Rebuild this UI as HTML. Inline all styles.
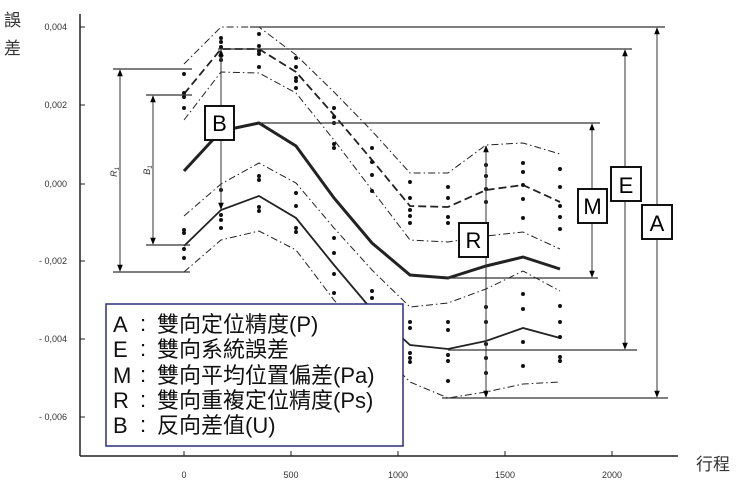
<!DOCTYPE html>
<html><head><meta charset="utf-8"><style>
html,body{margin:0;padding:0;background:#fff;}
svg{display:block;}
.t{font-family:"Liberation Sans",sans-serif;font-size:9px;fill:#333;}
.c{font-family:"Liberation Sans","Noto Sans CJK TC",sans-serif;}
</style></head><body>
<svg width="740" height="489" viewBox="0 0 740 489" xmlns="http://www.w3.org/2000/svg">
<defs>
<marker id="ar" viewBox="0 0 10 10" refX="9" refY="5" markerWidth="7" markerHeight="9" orient="auto-start-reverse" markerUnits="userSpaceOnUse"><path d="M0,1 L10,5 L0,9 Z" fill="#000"/></marker>
</defs>
<line x1="80" y1="14" x2="80" y2="456" stroke="#222" stroke-width="1.5"/>
<line x1="80" y1="456" x2="678" y2="456" stroke="#222" stroke-width="1.5"/>
<g stroke="#222" stroke-width="1">
<line x1="80" y1="27" x2="85" y2="27"/><line x1="80" y1="105" x2="85" y2="105"/><line x1="80" y1="184" x2="85" y2="184"/><line x1="80" y1="261" x2="85" y2="261"/><line x1="80" y1="339" x2="85" y2="339"/><line x1="80" y1="417" x2="85" y2="417"/>
<line x1="184" y1="451" x2="184" y2="456"/><line x1="291" y1="451" x2="291" y2="456"/><line x1="398" y1="451" x2="398" y2="456"/><line x1="505" y1="451" x2="505" y2="456"/><line x1="612" y1="451" x2="612" y2="456"/>
</g>
<g class="t" text-anchor="end">
<text x="67" y="30">0,004</text><text x="67" y="108">0,002</text><text x="67" y="187">0,000</text>
<text x="67" y="264">- 0,002</text><text x="67" y="342">- 0,004</text><text x="67" y="420">- 0,006</text>
</g>
<g class="t" text-anchor="middle">
<text x="184" y="478">0</text><text x="291" y="478">500</text><text x="398" y="478">1000</text><text x="505" y="478">1500</text><text x="612" y="478">2000</text>
</g>
<text class="c" x="4" y="26" font-size="17" fill="#333">誤</text>
<text class="c" x="4" y="54" font-size="17" fill="#333">差</text>
<text class="c" x="696" y="470" font-size="17" fill="#333">行程</text>

<g fill="none" stroke="#222">
<polyline stroke-width="1" stroke-dasharray="7,3,1.5,3" points="184,64 221,27 259,27 296,55 334,92 372,131 410,173 448,173 486,145 523,143 560,154"/>
<polyline stroke-width="1.8" stroke-dasharray="8,4" points="184,94 221,49 259,49 296,72 334,115 372,160 410,206 448,207 486,190 523,185 560,202"/>
<polyline stroke-width="1" stroke-dasharray="7,3,1.5,3" points="184,120 221,72 259,73 296,93 334,140 372,190 410,240 448,242 486,236 523,232 560,249"/>
<polyline stroke-width="3" points="184,171 221,131 259,123 296,146 334,198 372,243 410,275 448,278 486,266 523,257 560,269"/>
<polyline stroke-width="1" stroke-dasharray="7,3,1.5,3" points="184,216 221,184 259,163 296,183 334,228 372,270 410,307 448,303 486,289 523,271 560,291"/>
<polyline stroke-width="1.8" points="184,246 221,210 259,196 296,218 334,265 372,310 410,345 448,349 486,341 523,328 560,338"/>
<polyline stroke-width="1" stroke-dasharray="7,3,1.5,3" points="184,272 221,240 259,231 296,250 334,300 372,343 410,382 448,398 486,392 523,384 560,382"/>
</g>

<g fill="#111">
<circle cx="184" cy="74" r="2"/><circle cx="184" cy="93" r="2"/><circle cx="184" cy="97" r="2"/><circle cx="184" cy="108" r="2"/><circle cx="184" cy="230" r="2"/><circle cx="184" cy="233" r="2"/><circle cx="184" cy="249" r="2"/><circle cx="184" cy="258" r="2"/>
<circle cx="221" cy="38" r="2"/><circle cx="221" cy="42" r="2"/><circle cx="221" cy="47" r="2"/><circle cx="221" cy="56" r="2"/><circle cx="221" cy="60" r="2"/><circle cx="221" cy="190" r="2"/><circle cx="221" cy="215" r="2"/><circle cx="221" cy="220" r="2"/><circle cx="221" cy="228" r="2"/>
<circle cx="259" cy="34" r="2"/><circle cx="259" cy="46" r="2"/><circle cx="259" cy="51" r="2"/><circle cx="259" cy="54" r="2"/><circle cx="259" cy="67" r="2"/><circle cx="259" cy="176" r="2"/><circle cx="259" cy="180" r="2"/><circle cx="259" cy="207" r="2"/><circle cx="259" cy="211" r="2"/>
<circle cx="296" cy="58" r="2"/><circle cx="296" cy="67" r="2"/><circle cx="296" cy="78" r="2"/><circle cx="296" cy="81" r="2"/><circle cx="296" cy="88" r="2"/><circle cx="296" cy="193" r="2"/><circle cx="296" cy="206" r="2"/><circle cx="296" cy="228" r="2"/><circle cx="296" cy="232" r="2"/>
<circle cx="334" cy="108" r="2"/><circle cx="334" cy="117" r="2"/><circle cx="334" cy="123" r="2"/><circle cx="334" cy="144" r="2"/><circle cx="334" cy="148" r="2"/><circle cx="334" cy="238" r="2"/><circle cx="334" cy="253" r="2"/><circle cx="334" cy="274" r="2"/><circle cx="334" cy="293" r="2"/>
<circle cx="372" cy="148" r="2"/><circle cx="372" cy="162" r="2"/><circle cx="372" cy="175" r="2"/><circle cx="372" cy="191" r="2"/><circle cx="372" cy="291" r="2"/><circle cx="372" cy="298" r="2"/>
<circle cx="410" cy="182" r="2"/><circle cx="410" cy="198" r="2"/><circle cx="410" cy="210" r="2"/><circle cx="410" cy="216" r="2"/><circle cx="410" cy="223" r="2"/><circle cx="410" cy="322" r="2"/><circle cx="410" cy="328" r="2"/><circle cx="410" cy="353" r="2"/><circle cx="410" cy="358" r="2"/><circle cx="410" cy="362" r="2"/>
<circle cx="448" cy="187" r="2"/><circle cx="448" cy="198" r="2"/><circle cx="448" cy="217" r="2"/><circle cx="448" cy="223" r="2"/><circle cx="448" cy="322" r="2"/><circle cx="448" cy="330" r="2"/><circle cx="448" cy="355" r="2"/><circle cx="448" cy="361" r="2"/><circle cx="448" cy="381" r="2"/>
<circle cx="486" cy="165" r="2"/><circle cx="486" cy="176" r="2"/><circle cx="486" cy="189" r="2"/><circle cx="486" cy="202" r="2"/><circle cx="486" cy="307" r="2"/><circle cx="486" cy="322" r="2"/><circle cx="486" cy="344" r="2"/><circle cx="486" cy="358" r="2"/><circle cx="486" cy="373" r="2"/>
<circle cx="523" cy="163" r="2"/><circle cx="523" cy="172" r="2"/><circle cx="523" cy="185" r="2"/><circle cx="523" cy="199" r="2"/><circle cx="523" cy="218" r="2"/><circle cx="523" cy="294" r="2"/><circle cx="523" cy="309" r="2"/><circle cx="523" cy="342" r="2"/><circle cx="523" cy="366" r="2"/>
<circle cx="560" cy="169" r="2"/><circle cx="560" cy="187" r="2"/><circle cx="560" cy="206" r="2"/><circle cx="560" cy="217" r="2"/><circle cx="560" cy="229" r="2"/><circle cx="560" cy="306" r="2"/><circle cx="560" cy="322" r="2"/><circle cx="560" cy="337" r="2"/><circle cx="560" cy="357" r="2"/><circle cx="560" cy="361" r="2"/>
</g>

<g stroke="#333" stroke-width="1.2" fill="none">
<line x1="250" y1="27" x2="665" y2="27"/>
<line x1="218" y1="49" x2="632" y2="49"/>
<line x1="259" y1="123" x2="600" y2="123"/>
<line x1="448" y1="278" x2="598" y2="278"/>
<line x1="448" y1="350" x2="637" y2="350"/>
<line x1="442" y1="398" x2="668" y2="398"/>
<line x1="113" y1="69" x2="192" y2="69"/>
<line x1="113" y1="272" x2="190" y2="272"/>
<line x1="146" y1="95" x2="192" y2="95"/>
<line x1="146" y1="245" x2="190" y2="245"/>
</g>
<g stroke="#333" stroke-width="1" marker-start="url(#ar)" marker-end="url(#ar)">
<line x1="657" y1="28" x2="657" y2="397"/>
<line x1="625" y1="50" x2="625" y2="349"/>
<line x1="592" y1="124" x2="592" y2="277"/>
<line x1="120" y1="70" x2="120" y2="271"/>
<line x1="153" y1="96" x2="153" y2="244"/>
<line x1="221" y1="50" x2="221" y2="209"/>
<line x1="486" y1="146" x2="486" y2="397"/>
</g>
<text x="117" y="172" font-family="Liberation Sans" font-style="italic" font-size="9" fill="#333" transform="rotate(-90 117 172)" text-anchor="middle">R<tspan font-size="6" dy="2">1</tspan></text>
<text x="150" y="170" font-family="Liberation Sans" font-style="italic" font-size="9" fill="#333" transform="rotate(-90 150 170)" text-anchor="middle">B<tspan font-size="6" dy="2">1</tspan></text>

<g font-family="Liberation Sans" font-size="22" text-anchor="middle">
<rect x="205" y="106" width="29" height="34" fill="#fff" stroke="#111" stroke-width="2"/><text x="219.5" y="131">B</text>
<rect x="459" y="223" width="29" height="34" fill="#fff" stroke="#111" stroke-width="2"/><text x="473.5" y="248">R</text>
<rect x="578" y="189" width="29" height="34" fill="#fff" stroke="#111" stroke-width="2"/><text x="592.5" y="214">M</text>
<rect x="611" y="167" width="30" height="34" fill="#fff" stroke="#111" stroke-width="2"/><text x="626" y="193">E</text>
<rect x="642" y="205" width="30" height="34" fill="#fff" stroke="#111" stroke-width="2"/><text x="657" y="231">A</text>
</g>

<rect x="106" y="304" width="297" height="142" fill="#fff" stroke="#2b2f7a" stroke-width="1.5"/>
<g class="c" font-size="22" fill="#111">
<text x="113" y="332">A</text><text x="140" y="331">:</text><text x="157" y="332">雙向定位精度(P)</text>
<text x="113" y="357">E</text><text x="140" y="356">:</text><text x="157" y="357">雙向系統誤差</text>
<text x="113" y="383">M</text><text x="140" y="382">:</text><text x="157" y="383">雙向平均位置偏差(Pa)</text>
<text x="113" y="408">R</text><text x="140" y="407">:</text><text x="157" y="408">雙向重複定位精度(Ps)</text>
<text x="113" y="433">B</text><text x="140" y="432">:</text><text x="157" y="433">反向差值(U)</text>
</g>
</svg>
</body></html>
